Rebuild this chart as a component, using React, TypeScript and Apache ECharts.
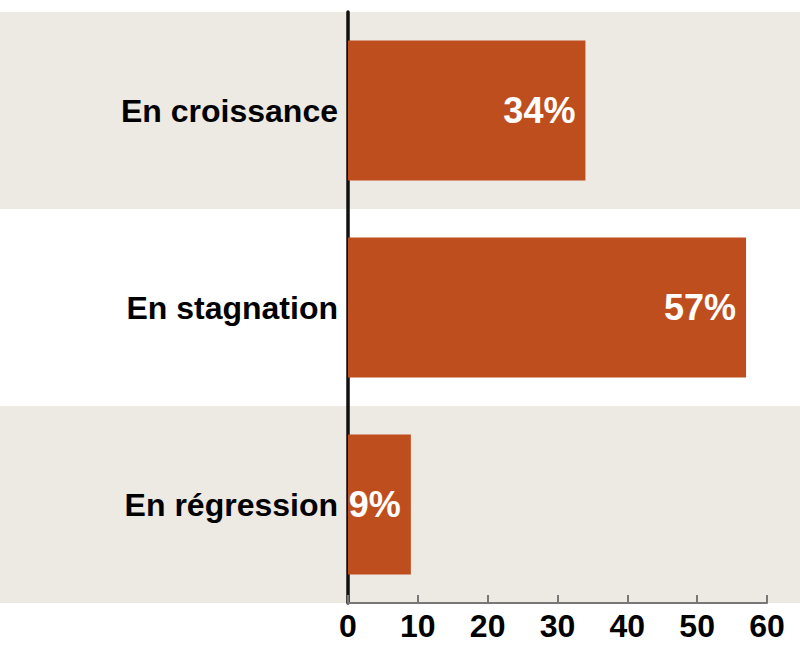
import React, { useEffect, useRef } from "react";
import * as echarts from "echarts";

const categories = ["En croissance", "En stagnation", "En régression"];
const values = [34, 57, 9];
const axisMin = 0;
const axisMax = 60;
const axisStep = 10;

export default function App() {
  const ref = useRef<HTMLDivElement>(null);
  useEffect(() => {
    if (!ref.current) return;
    const chart = echarts.init(ref.current, null, { renderer: "svg" });
    const font = "'Liberation Sans', Arial, sans-serif";
    chart.setOption({
      animation: false,
      backgroundColor: "#FFFFFF",
      grid: [
        { left: 0, right: 0, top: 12, bottom: 56 },
        { left: 348, right: 33, top: 12, bottom: 56 },
      ],
      xAxis: [
        { gridIndex: 0, type: "value", show: false, min: 0, max: 1 },
        {
          gridIndex: 1,
          type: "value",
          min: axisMin,
          max: axisMax,
          interval: axisStep,
          axisLine: { show: true, lineStyle: { color: "#777777", width: 2 } },
          axisTick: { show: true, inside: true, length: 8, lineStyle: { color: "#777777", width: 2 } },
          splitLine: { show: false },
          axisLabel: { color: "#000", fontSize: 32, fontWeight: "bold", fontFamily: font, margin: 7 },
        },
      ],
      yAxis: [
        {
          gridIndex: 0,
          type: "category",
          data: categories,
          inverse: true,
          axisLine: { show: false },
          axisTick: { show: false },
          axisLabel: { show: false },
          splitLine: { show: false },
          splitArea: { show: true, areaStyle: { color: ["#EDE9E3", "#FFFFFF"] } },
        },
        {
          gridIndex: 1,
          type: "category",
          data: categories,
          inverse: true,
          axisLine: { show: true, lineStyle: { color: "#111111", width: 3.5 } },
          axisTick: { show: false },
          splitLine: { show: false },
          axisLabel: { color: "#000", fontSize: 32, fontWeight: "bold", fontFamily: font, margin: 10 },
        },
      ],
      series: [
        {
          type: "bar",
          xAxisIndex: 1,
          yAxisIndex: 1,
          data: values,
          barWidth: 140,
          itemStyle: { color: "#BF4E1E" },
          label: {
            show: true,
            position: "insideRight",
            distance: 10,
            formatter: "{c}%",
            color: "#FFFFFF",
            fontSize: 36,
            fontWeight: "bold",
            fontFamily: font,
          },
        },
      ],
    });
    return () => chart.dispose();
  }, []);
  return <div ref={ref} style={{ position: "fixed", left: 0, top: 0, width: 800, height: 659 }} />;
}
